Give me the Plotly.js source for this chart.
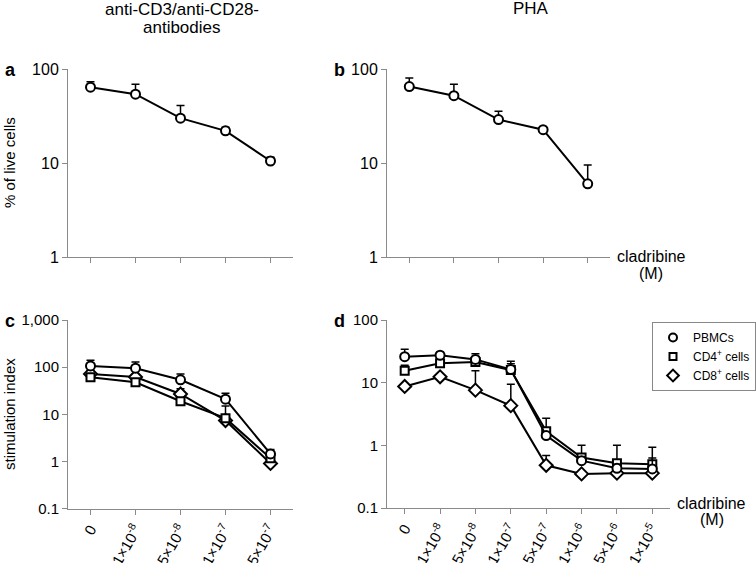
<!DOCTYPE html>
<html>
<head>
<meta charset="utf-8">
<script src="https://cdn.plot.ly/plotly-3.0.1.min.js"></script>
<style>html,body{margin:0;padding:0;background:#fff;}#chart{width:756px;height:563px;}</style>
</head>
<body>
<div id="chart"></div>
<script>
// ---- data ----
const catsTop = ["0", "1×10<sup>-8</sup>", "5×10<sup>-8</sup>", "1×10<sup>-7</sup>", "5×10<sup>-7</sup>"];
const catsD = ["0", "1×10<sup>-8</sup>", "5×10<sup>-8</sup>", "1×10<sup>-7</sup>", "5×10<sup>-7</sup>", "1×10<sup>-6</sup>", "5×10<sup>-6</sup>", "1×10<sup>-5</sup>"];

const aLive = [64, 54, 30, 22, 10.5];
const aLiveTop = [73, 69, 41, 24, 11.5];
const bLive = [65, 52, 29, 22.6, 6.0];
const bLiveTop = [80, 69, 35.5, 22.6, 9.5];

const cPBMC = [106, 95, 54, 21, 1.45];
const cPBMCTop = [140, 129, 72, 28, 1.8];
const cCD4 = [61, 48, 19, 8.3, 1.17];
const cCD4Top = [70, 55, 22, 15, 1.4];
const cCD8 = [72, 62, 27, 7.4, 0.91];
const cCD8Top = [85, 70, 35, 9, 1.1];

const dPBMC = [26, 27.5, 23.5, 16.2, 1.43, 0.57, 0.43, 0.42];
const dPBMCTop = [34, 30.5, 29, 20, 1.6, 0.65, 0.5, 0.63];
const dCD4 = [15.5, 20.4, 21.4, 15.9, 1.68, 0.64, 0.52, 0.50];
const dCD4Top = [19, 27, 26, 22, 2.7, 1.0, 1.0, 0.93];
const dCD8 = [8.7, 12.4, 7.6, 4.3, 0.48, 0.35, 0.36, 0.36];
const dCD8Top = [8.7, 12.4, 15.5, 9.4, 0.69, 0.35, 0.36, 0.36];

const seriesNames = ["PBMCs", "CD4<sup>+</sup> cells", "CD8<sup>+</sup> cells"];
const yTicksTop = [1, 10, 100];
const yTickTextTop = ["1", "10", "100"];
const yTicksC = [0.1, 1, 10, 100, 1000];
const yTickTextC = ["0.1", "1", "10", "100", "1,000"];
const yTicksD = [0.1, 1, 10, 100];
const yTickTextD = ["0.1", "1", "10", "100"];

// ---- helpers ----
const FONT = "Liberation Sans, Arial, Helvetica, sans-serif";
const symbols = ["circle", "square", "diamond"];
const sizes = [9, 8, 10];
function idx(n){ return Array.from({length:n}, (_, i) => i); }
function trace(vals, tops, sIdx, xa, ya){
  return {
    x: idx(vals.length), y: vals,
    xaxis: xa, yaxis: ya,
    mode: "lines+markers", type: "scatter", showlegend: false,
    line: {color: "black", width: 2},
    marker: {symbol: symbols[sIdx], size: sizes[sIdx], color: "white", line: {color: "black", width: 2}},
    error_y: {type: "data", symmetric: false,
      array: vals.map((v, i) => tops[i] - v),
      arrayminus: vals.map(() => 0),
      color: "black", thickness: 1.5, width: 4},
    cliponaxis: false
  };
}

const traces = [
  trace(aLive, aLiveTop, 0, "x", "y"),
  trace(bLive, bLiveTop, 0, "x2", "y2"),
  trace(cCD8, cCD8Top, 2, "x3", "y3"),
  trace(cCD4, cCD4Top, 1, "x3", "y3"),
  trace(cPBMC, cPBMCTop, 0, "x3", "y3"),
  trace(dCD8, dCD8Top, 2, "x4", "y4"),
  trace(dCD4, dCD4Top, 1, "x4", "y4"),
  trace(dPBMC, dPBMCTop, 0, "x4", "y4")
];
seriesNames.forEach((nm, i) => {
  traces.push({x: [null], y: [null], xaxis: "x4", yaxis: "y4", type: "scatter", mode: "markers",
    name: nm, showlegend: true,
    marker: {symbol: symbols[i], size: sizes[i] - 1, color: "white", line: {color: "black", width: 2}}});
});

const W = 756, H = 563;
function px(a, b){ return [a / W, b / W]; }
function py(top, bottom){ return [1 - bottom / H, 1 - top / H]; }
const axisCol = "#8a8a8a";
function xax(n, domain, anchor, labels){
  const o = {domain: domain, anchor: anchor, range: [-0.5, n - 0.5],
    tickmode: "array", tickvals: idx(n),
    showticklabels: !!labels, tickangle: -60,
    ticks: "outside", ticklen: 5, tickcolor: axisCol, tickwidth: 1,
    showline: true, linecolor: axisCol, linewidth: 1,
    showgrid: false, zeroline: false,
    tickfont: {family: FONT, size: 15, color: "black"}, fixedrange: true};
  if (labels) o.ticktext = labels;
  return o;
}
function yax(range, domain, anchor, tv, tt, fs){
  return {type: "log", domain: domain, anchor: anchor, range: range,
    tickmode: "array", tickvals: tv, ticktext: tt,
    ticks: "outside", ticklen: 5, tickcolor: axisCol, tickwidth: 1,
    showline: true, linecolor: axisCol, linewidth: 1,
    showgrid: false, zeroline: false,
    tickfont: {family: FONT, size: fs, color: "black"}, fixedrange: true};
}
function note(text, x, y, size, extra){
  return Object.assign({text: text, x: x / W, y: 1 - y / H, xref: "paper", yref: "paper",
    xanchor: "center", yanchor: "middle", showarrow: false, font: {size: size}}, extra || {});
}

const layout = {
  width: W, height: H,
  margin: {l: 0, r: 0, t: 0, b: 0},
  paper_bgcolor: "white", plot_bgcolor: "white",
  font: {family: FONT, color: "black"},
  showlegend: true,
  legend: {x: 1, y: 1 - 322 / H, xanchor: "right", yanchor: "top",
    bgcolor: "white", bordercolor: "#888", borderwidth: 1,
    font: {family: FONT, size: 12, color: "black"}, itemwidth: 30, tracegroupgap: 0},
  xaxis: xax(5, px(68, 293), "y"),
  yaxis: yax([0, 2], py(69, 257), "x", yTicksTop, yTickTextTop, 16),
  xaxis2: xax(5, px(387, 610), "y2"),
  yaxis2: yax([0, 2], py(69, 257), "x2", yTicksTop, yTickTextTop, 16),
  xaxis3: xax(5, px(68, 293), "y3", catsTop),
  yaxis3: yax([-1, 3], py(320, 508.7), "x3", yTicksC, yTickTextC, 15),
  xaxis4: xax(8, px(387, 670), "y4", catsD),
  yaxis4: yax([-1, 2], py(320, 508), "x4", yTicksD, yTickTextD, 15),
  annotations: [
    note("anti-CD3/anti-CD28-", 182, 9, 17),
    note("antibodies", 182, 27, 17),
    note("PHA", 531, 8, 17),
    note("<b>a</b>", 3, 70, 18, {xanchor: "left"}),
    note("<b>b</b>", 332, 70, 18, {xanchor: "left"}),
    note("<b>c</b>", 3, 321, 18, {xanchor: "left"}),
    note("<b>d</b>", 332, 321, 18, {xanchor: "left"}),
    note("% of live cells", 9, 163, 15, {textangle: -90}),
    note("stimulation index", 9, 414, 15, {textangle: -90}),
    note("cladribine", 651, 256, 16),
    note("(M)", 651, 273, 16),
    note("cladribine", 711, 503, 16),
    note("(M)", 712, 519, 16)
  ]
};

Plotly.newPlot("chart", traces, layout, {displayModeBar: false, staticPlot: true});
</script>
</body>
</html>
